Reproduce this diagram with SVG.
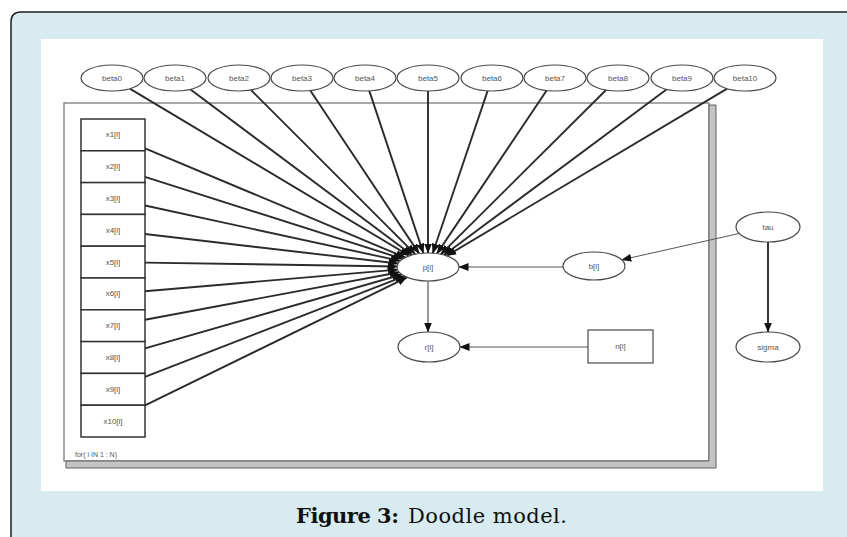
<svg xmlns="http://www.w3.org/2000/svg" width="847" height="537" viewBox="0 0 847 537">
  <style>
    .node ellipse, .node rect { fill: #ffffff; stroke: #4a4a4a; stroke-width: 1.2; }
    .box rect { fill: #ffffff; stroke: #333333; stroke-width: 1.5; }
    .lbl { font-family: "Liberation Sans", Arial, sans-serif; font-size: 8px; fill: #555555; text-anchor: middle; dominant-baseline: central; }
    .heavy { stroke: #2b2b2b; stroke-width: 1.9; fill: none; marker-end: url(#arr); }
    .light { stroke: #555555; stroke-width: 1.2; fill: none; marker-end: url(#arr); }
    .cap { font-size: 21px; fill: #111111; }
  </style>
  <defs>
    <marker id="arr" markerUnits="userSpaceOnUse" markerWidth="10" markerHeight="8" refX="9.5" refY="4" orient="auto">
      <path d="M0,0 L10,4 L0,8 z" fill="#111111"/>
    </marker>
  </defs>

  <!-- page and framed panel -->
  <rect x="0" y="0" width="847" height="537" fill="#ffffff"/>
  <path d="M11,545 L11,22 Q11,12 21,12 L860,12 L860,545 Z" fill="#d7ebf0"/>
  <path d="M11,545 L11,22 Q11,12 21,12 L860,12" fill="none" stroke="#1e1e1e" stroke-width="1.5"/>
  <rect x="41" y="39" width="782" height="452" fill="#ffffff"/>

  <!-- plate: for( i IN 1 : N) -->
  <g id="plate">
    <rect x="64" y="103" width="645" height="358" fill="none" stroke="#7a7a7a" stroke-width="1.3"/>
    <path d="M709,105 L716,105 L716,468 L66,468 L66,461 L709,461 Z" fill="#c4c4c4" stroke="#606060" stroke-width="1"/>
    <text x="75" y="454" class="lbl" style="text-anchor:start;font-size:7px">for( i IN 1 : N)</text>
  </g>

  <!-- connectors -->
  <g id="connectors">
    <line class="heavy" x1="129.8" y1="88.6" x2="409.3" y2="255.8"/>
    <line class="heavy" x1="190.2" y1="89.3" x2="412.0" y2="255.0"/>
    <line class="heavy" x1="251.0" y1="90.0" x2="415.2" y2="254.2"/>
    <line class="heavy" x1="310.3" y1="90.5" x2="419.1" y2="253.6"/>
    <line class="heavy" x1="369.3" y1="90.9" x2="423.4" y2="253.1"/>
    <line class="heavy" x1="428" y1="91" x2="428" y2="253"/>
    <line class="heavy" x1="487.6" y1="90.9" x2="432.7" y2="253.2"/>
    <line class="heavy" x1="546.6" y1="90.5" x2="437.0" y2="253.6"/>
    <line class="heavy" x1="606.0" y1="90.0" x2="440.8" y2="254.3"/>
    <line class="heavy" x1="666.8" y1="89.3" x2="444.1" y2="255.0"/>
    <line class="heavy" x1="727.2" y1="88.6" x2="446.7" y2="255.8"/>

    <line class="heavy" x1="145" y1="148.3" x2="405.3" y2="257.5"/>
    <line class="heavy" x1="145" y1="176.9" x2="402.7" y2="258.9"/>
    <line class="heavy" x1="145" y1="205.5" x2="400.1" y2="260.9"/>
    <line class="heavy" x1="145" y1="234.0" x2="398.0" y2="263.5"/>
    <line class="heavy" x1="145" y1="262.6" x2="397.0" y2="266.5"/>
    <line class="heavy" x1="145" y1="291.2" x2="397.5" y2="269.6"/>
    <line class="heavy" x1="145" y1="319.7" x2="399.3" y2="272.3"/>
    <line class="heavy" x1="145" y1="348.3" x2="401.8" y2="274.5"/>
    <line class="heavy" x1="145" y1="376.9" x2="404.5" y2="276.1"/>
    <line class="heavy" x1="145" y1="405.4" x2="407.0" y2="277.3"/>

    <line class="light" x1="563" y1="267" x2="459" y2="267"/>
    <line class="light" x1="588" y1="347" x2="460" y2="347"/>
    <line class="light" x1="428" y1="281" x2="428" y2="332"/>
    <line class="light" x1="739.1" y1="233.5" x2="621.8" y2="259.8" style="stroke-width:1"/>
    <line class="heavy" x1="768" y1="242" x2="768" y2="332"/>
  </g>

  <!-- coefficient nodes -->
  <g id="beta0" class="node"><ellipse cx="112" cy="78" rx="31" ry="13"/><text x="112" y="78" class="lbl">beta0</text></g>
  <g id="beta1" class="node"><ellipse cx="175" cy="78" rx="31" ry="13"/><text x="175" y="78" class="lbl">beta1</text></g>
  <g id="beta2" class="node"><ellipse cx="239" cy="78" rx="31" ry="13"/><text x="239" y="78" class="lbl">beta2</text></g>
  <g id="beta3" class="node"><ellipse cx="302" cy="78" rx="31" ry="13"/><text x="302" y="78" class="lbl">beta3</text></g>
  <g id="beta4" class="node"><ellipse cx="365" cy="78" rx="31" ry="13"/><text x="365" y="78" class="lbl">beta4</text></g>
  <g id="beta5" class="node"><ellipse cx="428" cy="78" rx="31" ry="13"/><text x="428" y="78" class="lbl">beta5</text></g>
  <g id="beta6" class="node"><ellipse cx="492" cy="78" rx="31" ry="13"/><text x="492" y="78" class="lbl">beta6</text></g>
  <g id="beta7" class="node"><ellipse cx="555" cy="78" rx="31" ry="13"/><text x="555" y="78" class="lbl">beta7</text></g>
  <g id="beta8" class="node"><ellipse cx="618" cy="78" rx="31" ry="13"/><text x="618" y="78" class="lbl">beta8</text></g>
  <g id="beta9" class="node"><ellipse cx="682" cy="78" rx="31" ry="13"/><text x="682" y="78" class="lbl">beta9</text></g>
  <g id="beta10" class="node"><ellipse cx="745" cy="78" rx="31" ry="13"/><text x="745" y="78" class="lbl">beta10</text></g>

  <!-- covariate nodes -->
  <g id="x1" class="box"><rect x="81" y="119" width="64" height="31.8"/><text x="113" y="134.9" class="lbl">x1[i]</text></g>
  <g id="x2" class="box"><rect x="81" y="150.8" width="64" height="31.8"/><text x="113" y="166.7" class="lbl">x2[i]</text></g>
  <g id="x3" class="box"><rect x="81" y="182.6" width="64" height="31.8"/><text x="113" y="198.5" class="lbl">x3[i]</text></g>
  <g id="x4" class="box"><rect x="81" y="214.4" width="64" height="31.8"/><text x="113" y="230.3" class="lbl">x4[i]</text></g>
  <g id="x5" class="box"><rect x="81" y="246.2" width="64" height="31.8"/><text x="113" y="262.1" class="lbl">x5[i]</text></g>
  <g id="x6" class="box"><rect x="81" y="278" width="64" height="31.8"/><text x="113" y="293.9" class="lbl">x6[i]</text></g>
  <g id="x7" class="box"><rect x="81" y="309.8" width="64" height="31.8"/><text x="113" y="325.7" class="lbl">x7[i]</text></g>
  <g id="x8" class="box"><rect x="81" y="341.6" width="64" height="31.8"/><text x="113" y="357.5" class="lbl">x8[i]</text></g>
  <g id="x9" class="box"><rect x="81" y="373.4" width="64" height="31.8"/><text x="113" y="389.3" class="lbl">x9[i]</text></g>
  <g id="x10" class="box"><rect x="81" y="405.2" width="64" height="31.8"/><text x="113" y="421.1" class="lbl">x10[i]</text></g>

  <!-- model nodes -->
  <g id="p" class="node"><ellipse cx="428" cy="267" rx="31" ry="14"/><text x="428" y="267" class="lbl">p[i]</text></g>
  <g id="r" class="node"><ellipse cx="429" cy="347" rx="31" ry="15"/><text x="429" y="347" class="lbl">r[i]</text></g>
  <g id="b" class="node"><ellipse cx="594" cy="266" rx="31" ry="14"/><text x="594" y="266" class="lbl">b[i]</text></g>
  <g id="n" class="node"><rect x="588" y="330" width="65" height="33"/><text x="620.5" y="346.5" class="lbl">n[i]</text></g>
  <g id="tau" class="node"><ellipse cx="768" cy="227" rx="32" ry="15"/><text x="768" y="227" class="lbl">tau</text></g>
  <g id="sigma" class="node"><ellipse cx="768" cy="347" rx="32" ry="15"/><text x="768" y="347" class="lbl">sigma</text></g>

  <!-- caption -->
  <text y="523" class="cap" font-family="'DejaVu Serif', 'Liberation Serif', serif"><tspan x="296" font-weight="bold" textLength="103" lengthAdjust="spacing">Figure 3:</tspan><tspan x="408" textLength="159" lengthAdjust="spacing">Doodle model.</tspan></text>
</svg>
